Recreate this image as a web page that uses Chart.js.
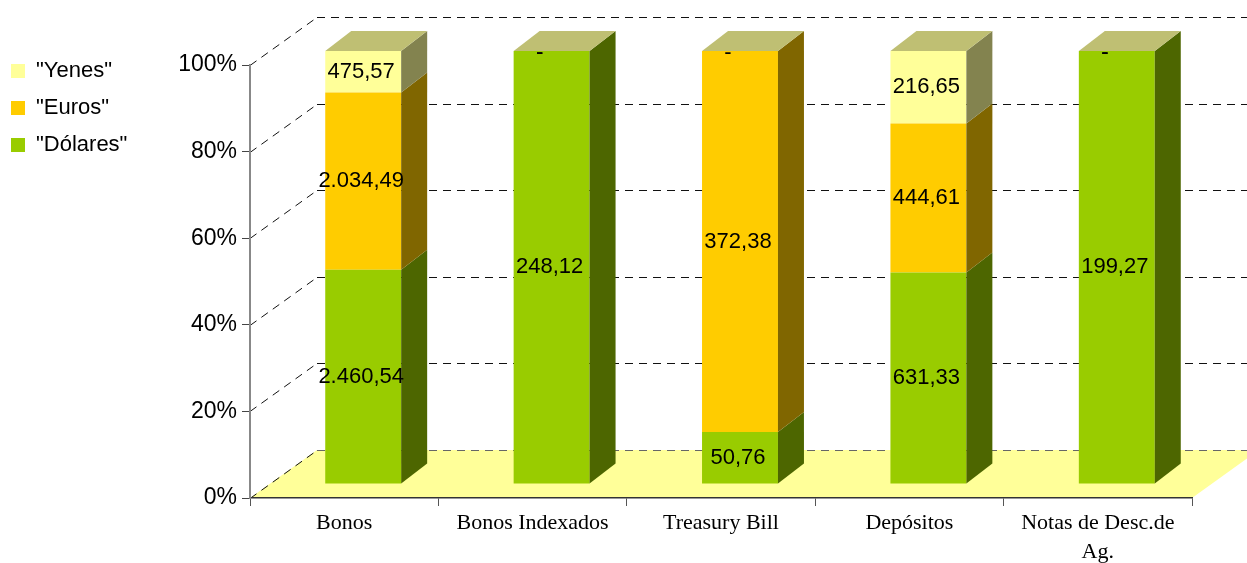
<!DOCTYPE html>
<html lang="es">
<head>
    <meta charset="UTF-8">
    <title>Composición por moneda</title>
    <script src="https://cdn.jsdelivr.net/npm/chart.js"></script>
    <style>
        body { margin: 0; background: #fff; }
        .wrap { width: 1247px; height: 563px; position: relative; }
    </style>
</head>
<body>
    <div class="wrap"><canvas id="chart"></canvas></div>

    <script>
        // datos
        const categorias = ['Bonos', 'Bonos Indexados', 'Treasury Bill', 'Depósitos', ['Notas de Desc.de', 'Ag.']];
        const series = ['"Dólares"', '"Euros"', '"Yenes"'];
        const dolares = [2460.54, 248.12, 50.76, 631.33, 199.27];
        const euros = [2034.49, 0, 372.38, 444.61, 0];
        const yenes = [475.57, 0, 0, 216.65, 0];
        const ticksY = [0, 20, 40, 60, 80, 100];

        const colores = ['#99CC00', '#FFCC00', '#FFFF99'];
        const lados = ['#4D6600', '#806600', '#83834F'];
        const techo = '#BFBF73';

        // profundidad del suelo/paredes y de las barras
        const DX = 67, DY = 48;
        const BX = 19, BY = 14;
        const SX = 26, SY = 20;

        const valores = [dolares, euros, yenes];
        const totales = categorias.map((c, i) => dolares[i] + euros[i] + yenes[i]);
        const porcentajes = valores.map(s => s.map((v, i) => v / totales[i] * 100));

        function fmt(v) {
            if (!v) return '-';
            const [ent, dec] = v.toFixed(2).split('.');
            return ent.replace(/\B(?=(\d{3})+(?!\d))/g, '.') + ',' + dec;
        }

        // suelo amarillo y líneas de división en las paredes
        const paredes = {
            id: 'paredes',
            beforeDraw(chart) {
                const { ctx, chartArea: a, scales: { y } } = chart;
                ctx.save();
                ctx.fillStyle = '#FFFF99';
                ctx.beginPath();
                ctx.moveTo(a.left, a.bottom);
                ctx.lineTo(a.right, a.bottom);
                ctx.lineTo(a.right + DX, a.bottom - DY);
                ctx.lineTo(a.left + DX, a.bottom - DY);
                ctx.closePath();
                ctx.fill();

                ctx.setLineDash([8, 6]);
                ctx.lineWidth = 1;
                y.ticks.forEach(t => {
                    const py = Math.round(y.getPixelForValue(t.value)) + 0.5;
                    ctx.strokeStyle = '#111';
                    ctx.beginPath();
                    ctx.moveTo(a.left, py);
                    ctx.lineTo(a.left + DX, py - DY);
                    ctx.stroke();
                    ctx.strokeStyle = t.value === 0 ? '#666' : '#111';
                    ctx.beginPath();
                    ctx.moveTo(a.left + DX, py - DY);
                    ctx.lineTo(a.right + DX + 20, py - DY);
                    ctx.stroke();
                });
                ctx.restore();
            }
        };

        // caras laterales, techo y etiquetas de las barras
        const barras3d = {
            id: 'barras3d',
            beforeDatasetsDraw(chart) {
                chart.ctx.save();
                chart.ctx.translate(BX, -BY);
            },
            afterDatasetsDraw(chart) {
                const ctx = chart.ctx;
                const tops = [];
                chart.data.datasets.forEach((ds, di) => {
                    chart.getDatasetMeta(di).data.forEach((bar, i) => {
                        const { x, y, base, width } = bar.getProps(['x', 'y', 'base', 'width'], true);
                        const r = x + width / 2;
                        tops[i] = { x, y, width };
                        if (Math.abs(base - y) < 0.5) return;
                        ctx.fillStyle = lados[di];
                        ctx.beginPath();
                        ctx.moveTo(r, y);
                        ctx.lineTo(r + SX, y - SY);
                        ctx.lineTo(r + SX, base - SY);
                        ctx.lineTo(r, base);
                        ctx.closePath();
                        ctx.fill();
                    });
                });
                tops.forEach(t => {
                    const l = t.x - t.width / 2, r = t.x + t.width / 2;
                    ctx.fillStyle = techo;
                    ctx.beginPath();
                    ctx.moveTo(l, t.y);
                    ctx.lineTo(l + SX, t.y - SY);
                    ctx.lineTo(r + SX, t.y - SY);
                    ctx.lineTo(r, t.y);
                    ctx.closePath();
                    ctx.fill();
                });

                ctx.fillStyle = '#000';
                ctx.font = '22px "Liberation Sans", Arial, sans-serif';
                ctx.textAlign = 'center';
                ctx.textBaseline = 'middle';
                chart.data.datasets.forEach((ds, di) => {
                    chart.getDatasetMeta(di).data.forEach((bar, i) => {
                        const { x, y, base } = bar.getProps(['x', 'y', 'base'], true);
                        const v = valores[di][i];
                        const ly = v ? (y + base) / 2 : y + 2;
                        ctx.fillText(fmt(v), v ? x - 2 : x - 12, ly);
                    });
                });
                ctx.restore();
            }
        };

        new Chart(document.getElementById('chart'), {
            type: 'bar',
            data: {
                labels: categorias,
                datasets: series.map((s, i) => ({
                    label: s,
                    data: porcentajes[i],
                    backgroundColor: colores[i],
                    borderWidth: 0,
                    categoryPercentage: 1,
                    barPercentage: 0.403
                }))
            },
            options: {
                responsive: true,
                maintainAspectRatio: false,
                animation: false,
                layout: { padding: { left: -4, top: 45, right: 55, bottom: 0 } },
                plugins: {
                    tooltip: { enabled: false },
                    legend: {
                        position: 'left',
                        align: 'start',
                        reverse: true,
                        labels: {
                            boxWidth: 14,
                            boxHeight: 14,
                            padding: 15,
                            color: '#000',
                            font: { size: 22, family: '"Liberation Sans", Arial, sans-serif' }
                        }
                    }
                },
                scales: {
                    x: {
                        stacked: true,
                        grid: { drawOnChartArea: false, tickLength: 8, color: '#555' },
                        border: { color: '#333', width: 1.5 },
                        ticks: {
                            color: '#000',
                            maxRotation: 0,
                            autoSkip: false,
                            padding: 3,
                            font: { size: 22, family: '"Liberation Serif", "Times New Roman", serif', lineHeight: 1.3 }
                        },
                        afterFit(s) { s.height = 65; }
                    },
                    xTop: {
                        position: 'top',
                        type: 'category',
                        labels: [''],
                        grid: { display: false },
                        border: { display: false },
                        ticks: { display: false },
                        afterFit(s) { s.height = 20; }
                    },
                    y: {
                        stacked: true,
                        min: 0,
                        max: 100,
                        afterBuildTicks(s) { s.ticks = ticksY.map(v => ({ value: v })); },
                        grid: { drawOnChartArea: false, tickLength: 8, color: '#444' },
                        border: { color: '#888', width: 2 },
                        ticks: {
                            color: '#000',
                            padding: 5,
                            font: { size: 23, family: '"Liberation Sans", Arial, sans-serif' },
                            callback: v => v + '%'
                        },
                        afterFit(s) { s.width = 254 - s.chart.legend.width; }
                    }
                }
            },
            plugins: [paredes, barras3d]
        });
    </script>
</body>
</html>
